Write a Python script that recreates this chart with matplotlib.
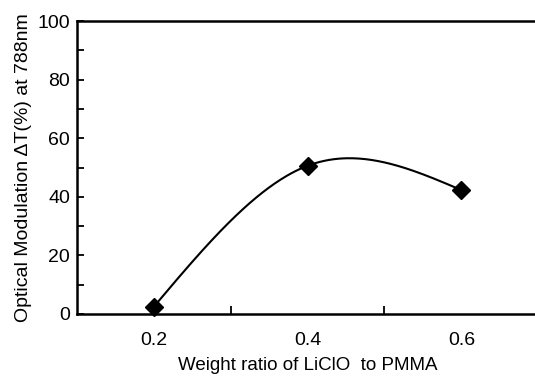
import numpy as np
import matplotlib.pyplot as plt

plt.rcParams['font.family'] = ['Liberation Sans', 'DejaVu Sans']

ratio = [0.2, 0.4, 0.6]
modulation = [2.5, 50.6, 42.3]


def natural_spline(x, y, n=200):
    # plain natural cubic spline through the measured points (smoothed line)
    x = np.asarray(x, float)
    y = np.asarray(y, float)
    k = len(x)
    h = np.diff(x)
    A = np.zeros((k, k))
    b = np.zeros(k)
    A[0, 0] = A[-1, -1] = 1
    for i in range(1, k - 1):
        A[i, i - 1] = h[i - 1]
        A[i, i] = 2 * (h[i - 1] + h[i])
        A[i, i + 1] = h[i]
        b[i] = 6 * ((y[i + 1] - y[i]) / h[i] - (y[i] - y[i - 1]) / h[i - 1])
    M = np.linalg.solve(A, b)
    xs = np.linspace(x[0], x[-1], n)
    idx = np.clip(np.searchsorted(x, xs) - 1, 0, k - 2)
    x0, x1 = x[idx], x[idx + 1]
    hh = x1 - x0
    ys = (M[idx] * (x1 - xs) ** 3 / (6 * hh) + M[idx + 1] * (xs - x0) ** 3 / (6 * hh)
          + (y[idx] / hh - M[idx] * hh / 6) * (x1 - xs)
          + (y[idx + 1] / hh - M[idx + 1] * hh / 6) * (xs - x0))
    return xs, ys


fig = plt.figure(figsize=(5.35, 3.76), dpi=100)
# right edge of the frame sits at the picture edge, as in the scan
ax = fig.add_axes([0.144, 0.165, 0.862, 0.779])

xs, ys = natural_spline(ratio, modulation)
ax.plot(xs, ys, color='black', lw=1.5)
ax.plot(ratio, modulation, linestyle='none', marker='D', markersize=9,
        color='black', clip_on=False, zorder=3)

ax.set_xlim(0.1, 0.7)
ax.set_ylim(0, 100)

ax.set_xticks([0.3, 0.5])
ax.set_xticklabels([])
ax.set_xticks([0.2, 0.4, 0.6], minor=True)
ax.set_xticklabels(['0.2', '0.4', '0.6'], minor=True)
ax.tick_params(axis='x', which='major', direction='in', length=6, width=1.3)
ax.tick_params(axis='x', which='minor', length=0, pad=13, labelsize=14)

ax.set_yticks(np.arange(0, 101, 20))
ax.set_yticks(np.arange(10, 100, 20), minor=True)
ax.tick_params(axis='y', which='both', direction='in', length=5, width=1.3,
               labelsize=14, pad=5)

for s in ax.spines.values():
    s.set_linewidth(1.8)
ax.spines['right'].set_visible(False)

ax.set_xlabel('Weight ratio of LiClO  to PMMA', fontsize=13.5, labelpad=5.5)
ax.set_ylabel('Optical Modulation \u0394T(%) at 788nm', fontsize=14, labelpad=4)

fig.savefig('out.png', dpi=100)
